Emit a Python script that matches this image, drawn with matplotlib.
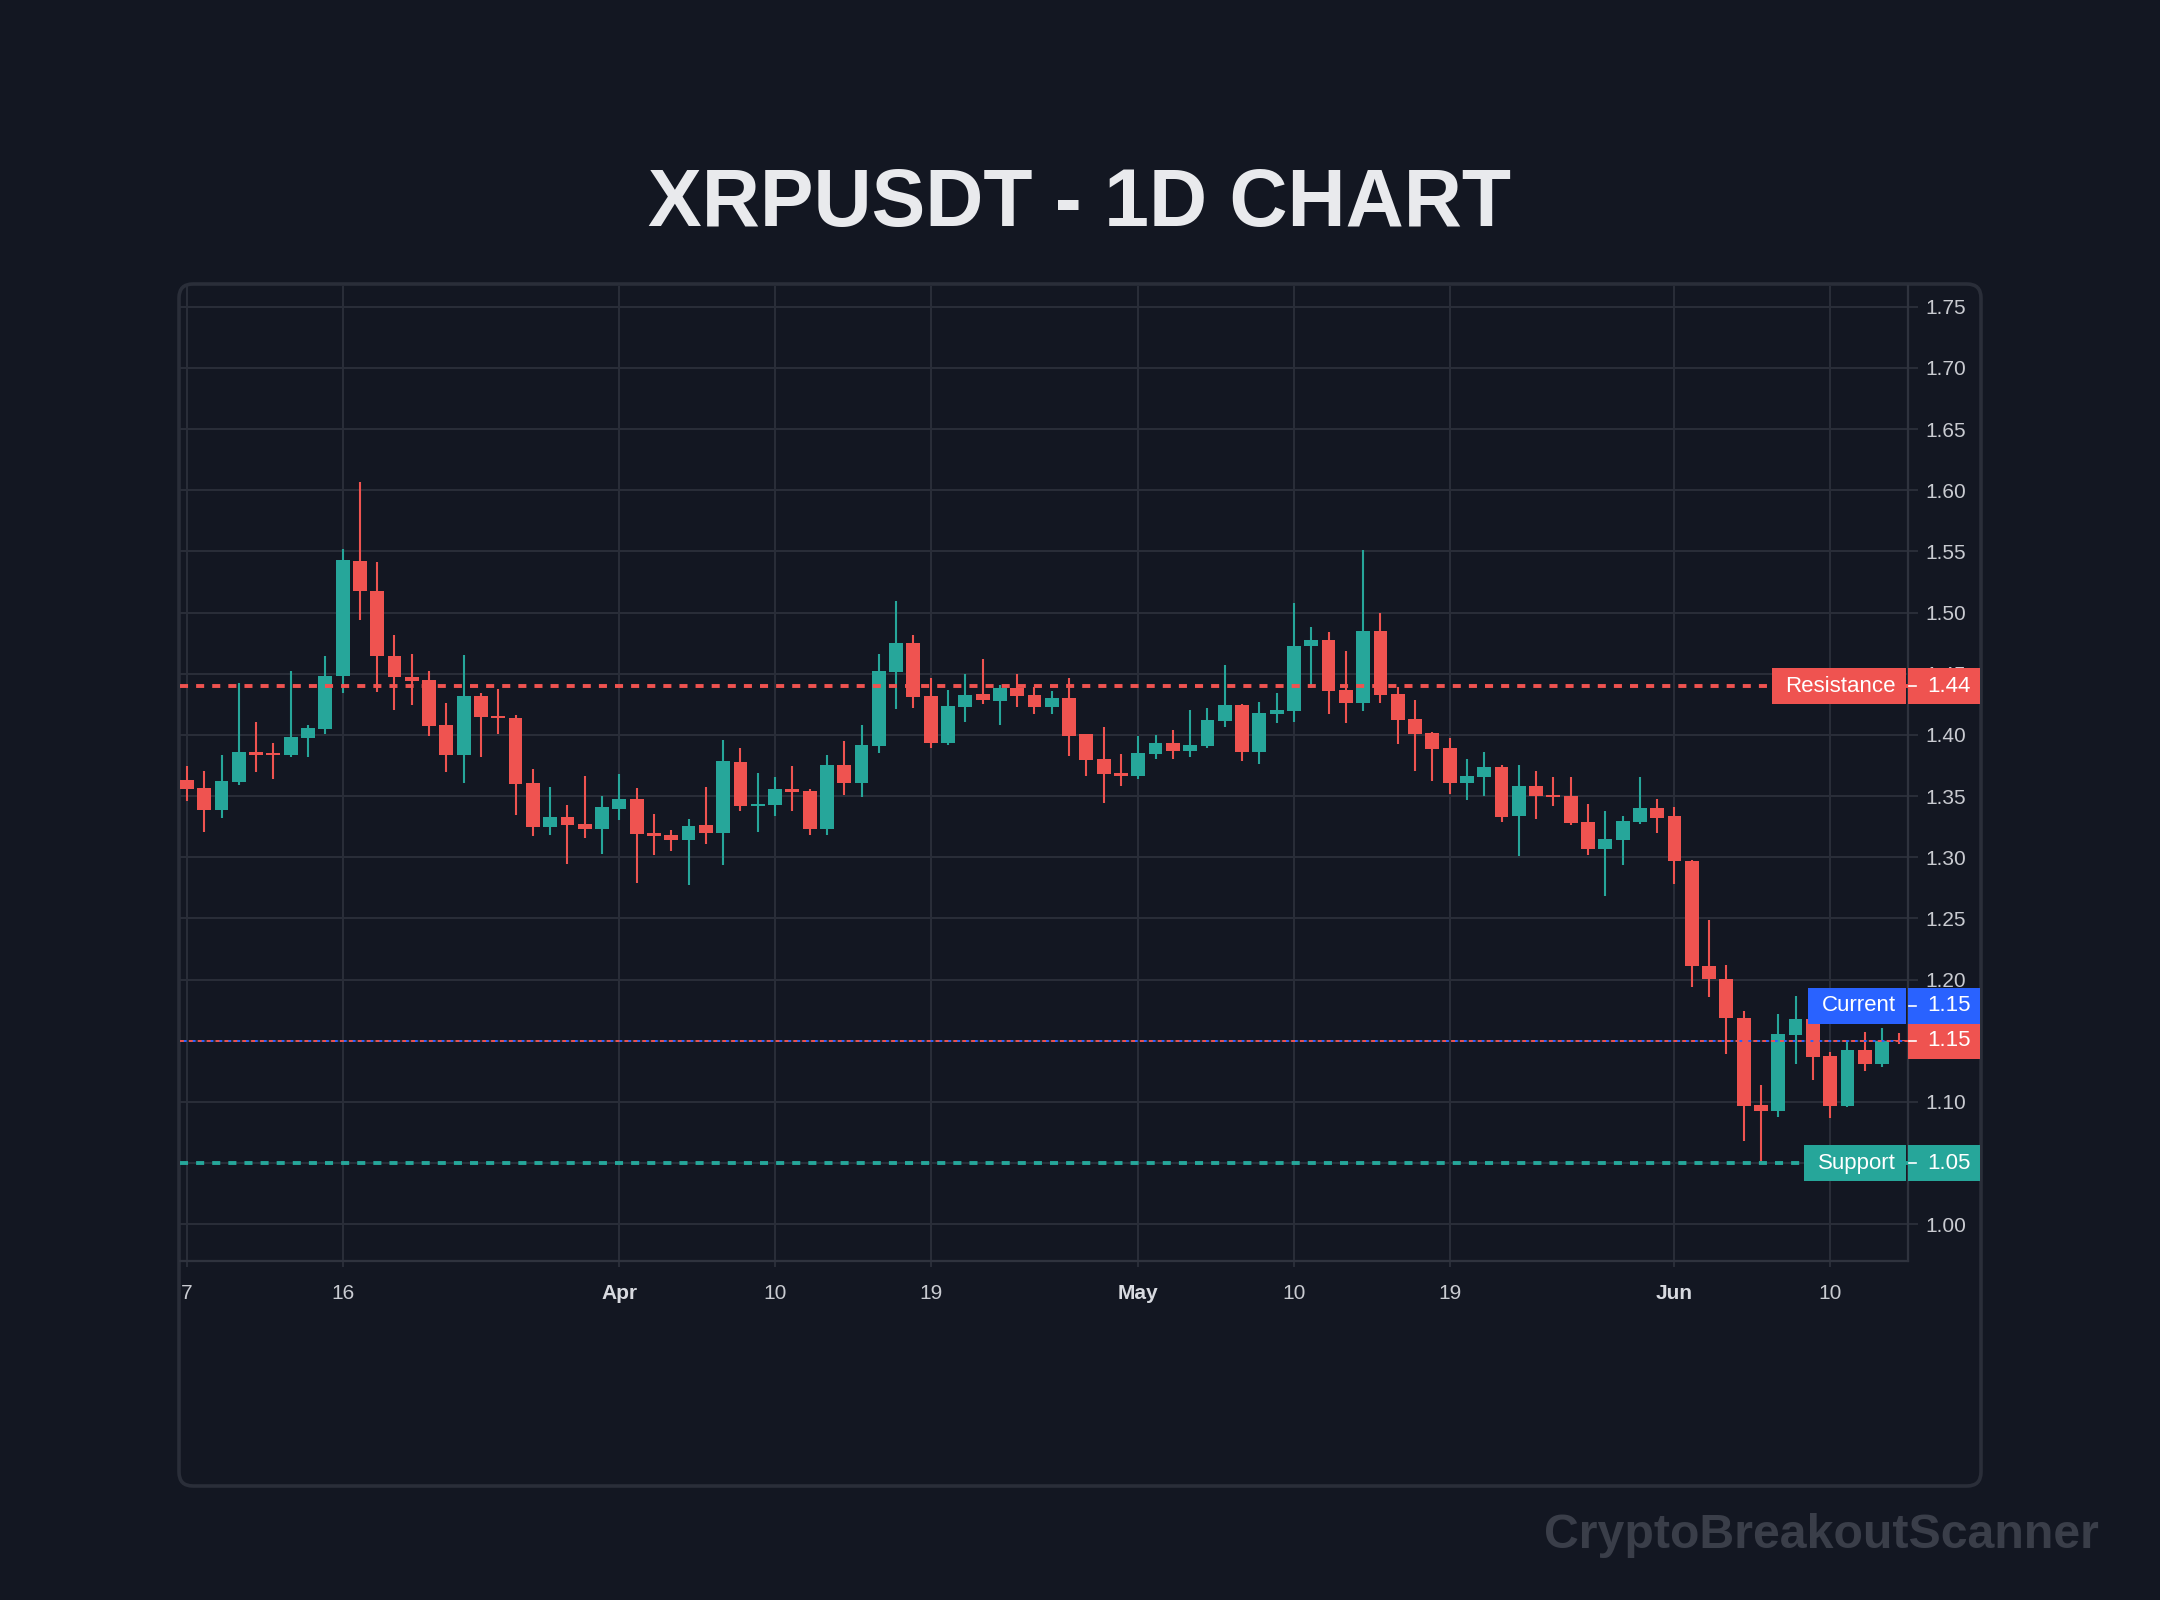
import matplotlib
matplotlib.use("Agg")
import matplotlib.pyplot as plt
from matplotlib.patches import Rectangle, FancyBboxPatch
from matplotlib.transforms import blended_transform_factory
import numpy as np
import pandas as pd

plt.rcParams['font.family'] = ['Liberation Sans', 'DejaVu Sans']
plt.rcParams['lines.scale_dashes'] = False

# ---- data (XRPUSDT daily) ----
dates = pd.date_range("2025-03-07", periods=100, freq="D")

opens = [1.3632, 1.3567, 1.3387, 1.3616, 1.3861, 1.3848, 1.3837, 1.3979, 1.4052, 1.4478,
         1.5424, 1.5179, 1.4647, 1.4475, 1.4451, 1.4082, 1.3840, 1.4320, 1.4153, 1.4138,
         1.3606, 1.3249, 1.3328, 1.3271, 1.3232, 1.3393, 1.3475, 1.3197, 1.3181, 1.3140,
         1.3262, 1.3197, 1.3778, 1.3418, 1.3426, 1.3557, 1.3541, 1.3230, 1.3753, 1.3606,
         1.3909, 1.4514, 1.4752, 1.4318, 1.3933, 1.4228, 1.4334, 1.4277, 1.4384, 1.4326,
         1.4228, 1.4302, 1.4007, 1.3802, 1.3688, 1.3666, 1.3843, 1.3933, 1.3868, 1.3909,
         1.4113, 1.4244, 1.3860, 1.4171, 1.4195, 1.4727, 1.4776, 1.4367, 1.4261, 1.4850,
         1.4334, 1.4130, 1.4015, 1.3893, 1.3606, 1.3656, 1.3738, 1.3337, 1.3582, 1.3509,
         1.3500, 1.3288, 1.3067, 1.3140, 1.3288, 1.3402, 1.3334, 1.2973, 1.2114, 1.2008,
         1.1689, 1.0977, 1.0930, 1.1550, 1.1681, 1.1378, 1.0963, 1.1427, 1.1312, 1.1509]
highs = [1.3747, 1.3706, 1.3837, 1.4426, 1.4107, 1.3935, 1.4524, 1.4082, 1.4647, 1.5523,
         1.6071, 1.5416, 1.4819, 1.4663, 1.4524, 1.4262, 1.4655, 1.4344, 1.4377, 1.4163,
         1.3721, 1.3573, 1.3426, 1.3663, 1.3500, 1.3680, 1.3565, 1.3352, 1.3222, 1.3312,
         1.3573, 1.3958, 1.3893, 1.3688, 1.3655, 1.3745, 1.3557, 1.3835, 1.3950, 1.4081,
         1.4662, 1.5095, 1.4817, 1.4465, 1.4367, 1.4498, 1.4620, 1.4408, 1.4498, 1.4392,
         1.4359, 1.4465, 1.4007, 1.4064, 1.3843, 1.3991, 1.3999, 1.4040, 1.4203, 1.4220,
         1.4572, 1.4253, 1.4269, 1.4343, 1.5079, 1.4883, 1.4842, 1.4686, 1.5510, 1.4997,
         1.4392, 1.4285, 1.4023, 1.3974, 1.3802, 1.3860, 1.3754, 1.3754, 1.3705, 1.3656,
         1.3656, 1.3435, 1.3378, 1.3337, 1.3656, 1.3476, 1.3415, 1.2975, 1.2491, 1.2122,
         1.1746, 1.1140, 1.1722, 1.1869, 1.1771, 1.1411, 1.1500, 1.1574, 1.1607, 1.1566]
lows = [1.3460, 1.3207, 1.3324, 1.3594, 1.3698, 1.3643, 1.3823, 1.3823, 1.4011, 1.4347,
        1.4936, 1.4355, 1.4208, 1.4241, 1.3995, 1.3700, 1.3610, 1.3823, 1.4011, 1.3344,
        1.3172, 1.3181, 1.2943, 1.3156, 1.3025, 1.3303, 1.2788, 1.3017, 1.3050, 1.2771,
        1.3107, 1.2935, 1.3377, 1.3205, 1.3336, 1.3377, 1.3181, 1.3180, 1.3508, 1.3492,
        1.3852, 1.4212, 1.4220, 1.3893, 1.3917, 1.4105, 1.4253, 1.4081, 1.4228, 1.4171,
        1.4171, 1.3827, 1.3663, 1.3442, 1.3582, 1.3639, 1.3802, 1.3802, 1.3819, 1.3893,
        1.4064, 1.3786, 1.3762, 1.4097, 1.4105, 1.4384, 1.4171, 1.4097, 1.4195, 1.4261,
        1.3925, 1.3704, 1.3622, 1.3516, 1.3467, 1.3500, 1.3288, 1.3010, 1.3312, 1.3419,
        1.3263, 1.3018, 1.2680, 1.2936, 1.3271, 1.3198, 1.2785, 1.1942, 1.1860, 1.1394,
        1.0682, 1.0497, 1.0881, 1.1312, 1.1181, 1.0873, 1.0955, 1.1255, 1.1288, 1.1476]
closes = [1.3561, 1.3387, 1.3624, 1.3861, 1.3837, 1.3840, 1.3984, 1.4058, 1.4483, 1.5433,
          1.5173, 1.4642, 1.4470, 1.4445, 1.4077, 1.3840, 1.4320, 1.4150, 1.4137, 1.3601,
          1.3249, 1.3328, 1.3265, 1.3232, 1.3410, 1.3475, 1.3189, 1.3175, 1.3140, 1.3254,
          1.3197, 1.3786, 1.3418, 1.3434, 1.3557, 1.3532, 1.3232, 1.3753, 1.3606, 1.3917,
          1.4523, 1.4752, 1.4310, 1.3933, 1.4236, 1.4326, 1.4285, 1.4384, 1.4318, 1.4228,
          1.4302, 1.3991, 1.3794, 1.3680, 1.3666, 1.3852, 1.3933, 1.3868, 1.3917, 1.4122,
          1.4244, 1.3860, 1.4179, 1.4203, 1.4727, 1.4776, 1.4359, 1.4261, 1.4850, 1.4326,
          1.4122, 1.4007, 1.3884, 1.3606, 1.3663, 1.3738, 1.3329, 1.3582, 1.3500, 1.3495,
          1.3280, 1.3067, 1.3149, 1.3296, 1.3402, 1.3320, 1.2968, 1.2109, 1.2002, 1.1683,
          1.0971, 1.0930, 1.1558, 1.1681, 1.1370, 1.0963, 1.1427, 1.1312, 1.1500, 1.1498]

resistance = 1.44
support = 1.05
current = 1.15

tick_dates = ["2025-03-07", "2025-03-16", "2025-04-01", "2025-04-10", "2025-04-19",
              "2025-05-01", "2025-05-10", "2025-05-19", "2025-06-01", "2025-06-10"]
tick_labels = ["7", "16", "Apr", "10", "19", "May", "10", "19", "Jun", "10"]
month_labels = ["Apr", "May", "Jun"]
price_ticks = np.round(np.arange(1.00, 1.751, 0.05), 2)

# ---- style ----
BG = "#131722"
GRID = "#2a2e39"
UP = "#26a69a"
DOWN = "#ef5350"
BLUE = "#2962ff"
TXT = "#c9cbd1"

W, H = 2160, 1600
def fx(px):
    return px / W
def fy(py):
    return 1 - py / H

fig = plt.figure(figsize=(10.8, 8), dpi=200, facecolor=BG)

# rounded panel
panel = FancyBboxPatch((179 / 200, (H - 1486) / 200), (1981 - 179) / 200, (1486 - 284) / 200,
                       boxstyle="round,pad=0,rounding_size=0.07",
                       transform=fig.dpi_scale_trans, facecolor=BG,
                       edgecolor="#2a2e39", lw=1.3, zorder=0)
fig.add_artist(panel)

ax = fig.add_axes([fx(180), fy(1261), fx(1908) - fx(180), fy(286) - fy(1261)])
ax.set_facecolor("none")
ax.set_xlim(-0.4, 99.5)
ax.set_ylim(0.97, 1.767)

x = np.arange(len(dates))
o = np.array(opens); h = np.array(highs); l = np.array(lows); c = np.array(closes)
colors = np.where(c >= o, UP, DOWN)

ax.vlines(x, l, h, colors=colors, lw=0.75, zorder=3)
body_bot = np.minimum(o, c)
body_h = np.maximum(np.abs(c - o), 0.0012)
ax.bar(x, body_h, bottom=body_bot, width=0.8, color=colors, linewidth=0, zorder=4)

# support / resistance / current lines
ax.axhline(resistance, color=DOWN, lw=1.4, ls=(0, (2.9, 2.9)), zorder=5)
ax.axhline(support, color=UP, lw=1.4, ls=(0, (2.9, 2.9)), zorder=5)
ax.axhline(current, color=DOWN, lw=0.7, ls=(0, (1.8, 1.4)), zorder=5)
ax.axhline(current, color=BLUE, lw=0.7, ls=(1.8, (1.0, 2.2)), zorder=5)

# axes styling
ax.grid(True, color=GRID, lw=0.7, zorder=0)
ax.set_axisbelow(True)
for s in ["top", "left"]:
    ax.spines[s].set_visible(False)
for s in ["right", "bottom"]:
    ax.spines[s].set_color("#2f333e")
    ax.spines[s].set_linewidth(0.8)

ax.yaxis.tick_right()
ax.set_yticks(price_ticks)
ax.set_yticklabels([f"{v:.2f}" for v in price_ticks])
ax.tick_params(axis="y", length=3.6, width=0.7, color=GRID, pad=2.8,
               labelsize=7.5, labelcolor=TXT)

tick_pos = [dates.get_loc(pd.Timestamp(d)) for d in tick_dates]
ax.set_xticks(tick_pos)
ax.set_xticklabels(tick_labels)
ax.tick_params(axis="x", length=2.2, width=0.7, color=GRID, pad=6,
               labelsize=7.5, labelcolor=TXT)
for lab in ax.get_xticklabels():
    if lab.get_text() in month_labels:
        lab.set_fontweight("bold")
        lab.set_color("#d8dae0")

# price labels on the right
trans = blended_transform_factory(fig.transFigure, ax.transData)
ppx = (1.767 - 0.97) / 975.0  # price per pixel


def price_label(yc, name, name_x0, color, value):
    hh = 18 * ppx
    if name:
        ax.add_patch(Rectangle((fx(name_x0), yc - hh), fx(1906) - fx(name_x0), 2 * hh,
                               transform=trans, facecolor=color, edgecolor="none",
                               clip_on=False, zorder=10))
        ax.text(fx(1896), yc, name, transform=trans, ha="right", va="center",
                fontsize=8, color="white", zorder=11, clip_on=False)
    ax.add_patch(Rectangle((fx(1908), yc - hh), fx(1980) - fx(1908), 2 * hh,
                           transform=trans, facecolor=color, edgecolor="none",
                           clip_on=False, zorder=10))
    ax.plot([fx(1909), fx(1916)], [yc, yc], transform=trans, color="white",
            lw=0.6, clip_on=False, zorder=11)
    ax.text(fx(1927), yc, f"{value:.2f}", transform=trans, ha="left", va="center",
            fontsize=8, color="white", zorder=11, clip_on=False)


price_label(resistance, "Resistance", 1772, DOWN, resistance)
price_label(current, None, 1908, DOWN, closes[-1])
price_label(current + 35 * ppx, "Current", 1808, BLUE, current)
price_label(support, "Support", 1804, UP, support)

# title and watermark
fig.text(0.5, fy(205), "XRPUSDT - 1D CHART", ha="center", va="center",
         fontsize=29, fontweight="bold", color="#e9eaed")
fig.text(fx(2099), fy(1535), "CryptoBreakoutScanner", ha="right", va="center",
         fontsize=17.4, fontweight="bold", color="#3a3e49")

fig.savefig("out.png", dpi=200, facecolor=BG)
